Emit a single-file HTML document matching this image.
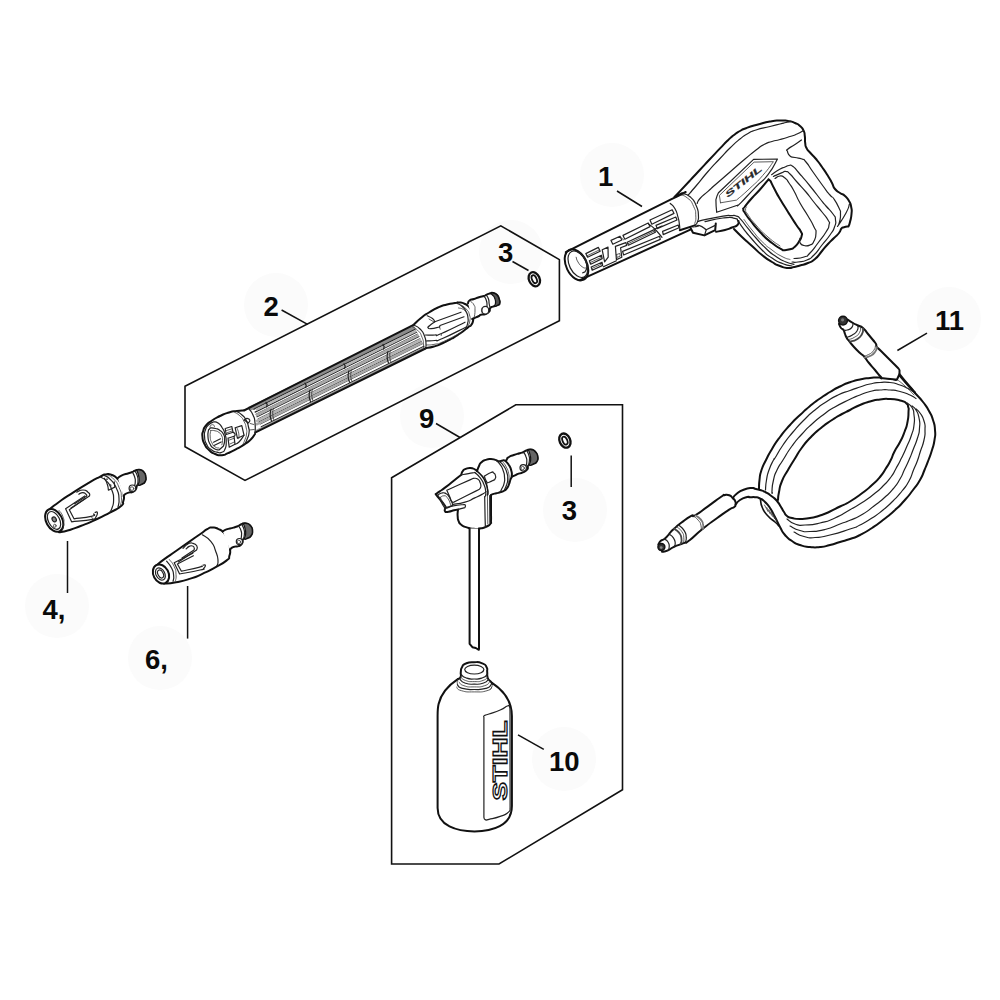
<!DOCTYPE html>
<html lang="en">
<head>
<meta charset="utf-8">
<title>Parts diagram</title>
<style>
html,body{margin:0;padding:0;background:#fff;}
body{width:1000px;height:1000px;overflow:hidden;position:relative;font-family:"Liberation Sans",sans-serif;}
svg{position:absolute;left:0;top:0;display:block;}
.lbl{font-family:"Liberation Sans",sans-serif;font-weight:bold;font-size:27.5px;fill:#0a0a0a;}
.bx{fill:none;stroke:#111;stroke-width:1.6;stroke-linejoin:miter;}
.ld{fill:none;stroke:#111;stroke-width:1.5;stroke-linecap:butt;}
.halo{fill:#fbfbfb;}
.o{fill:#fff;stroke:#111;stroke-width:2;stroke-linejoin:round;stroke-linecap:round;}
.m{fill:none;stroke:#222;stroke-width:1.2;stroke-linejoin:round;stroke-linecap:round;}
.t{fill:none;stroke:#333;stroke-width:0.8;stroke-linejoin:round;stroke-linecap:round;}
</style>
</head>
<body>
<svg width="1000" height="1000" viewBox="0 0 1000 1000">
<rect width="1000" height="1000" fill="#fff"/>
<!-- HALOS -->
<g class="halo">
<circle cx="612" cy="175" r="32"/>
<circle cx="276" cy="305" r="32"/>
<circle cx="511" cy="252" r="32"/>
<circle cx="575" cy="510" r="32"/>
<circle cx="57" cy="606" r="32"/>
<circle cx="160" cy="658" r="32"/>
<circle cx="432" cy="416" r="32"/>
<circle cx="564" cy="759" r="32"/>
<circle cx="949" cy="319" r="32"/>
</g>
<!-- BOXES -->
<polygon class="bx" points="185,386.2 500.8,225.8 559.4,259.6 559.4,320.8 245,480.4 185,446.8"/>
<polygon class="bx" points="391.6,477.7 515.8,404.8 622.5,404.8 622.5,789.7 499,864 391.6,864"/>
<!-- LEADERS -->
<g class="ld">
<path d="M617,191 L642,206.5"/>
<path d="M281.6,310 L307.6,324.4"/>
<path d="M512.5,261.5 L528.5,270.5"/>
<path d="M436,423.5 L460,437.5"/>
<path d="M571.2,455.5 V487"/>
<path d="M67.5,541 V593"/>
<path d="M187.6,586 V638.6"/>
<path d="M518,734.8 L543.8,749.4"/>
<path d="M897.4,350.5 L927,333.2"/>
</g>
<!-- PARTS -->
<g id="parts">
<g id="gun">
<ellipse class="o" cx="576.5" cy="264.8" rx="10.3" ry="16.6" transform="rotate(-26 576.5 264.8)"/>
<ellipse class="m" cx="577.8" cy="264.2" rx="8.4" ry="14.2" transform="rotate(-26 577.8 264.2)"/>
<path class="m" d="M578.0,252.4C580.0,254.0 581.1,253.2 584.0,257.2C586.9,261.2 586.0,260.0 586.6,264.4C587.2,268.8 587.1,267.6 585.8,270.4C584.5,273.2 583.8,272.0 582.8,272.8"/>
<path class="t" d="M576.2,257.2C576.8,258.8 576.0,258.8 578.0,262.0C580.0,265.2 579.6,264.8 582.2,266.8C584.8,268.8 584.6,267.6 585.8,268.0"/>
<path class="o" d="M565.8,252.2C599.8,235.0 631.5,219.0 668.0,200.8C704.5,182.6 672.8,198.6 675.2,197.4"/>
<path class="o" d="M579.8,280.2C613.2,265.0 643.6,251.1 680.0,234.4C716.4,217.7 686.0,231.6 689.0,230.2"/>
<path class="m" d="M585.8,253.6L598.4,247.4L600.2,251.2L587.6,257.2L585.8,253.6Z"/>
<path class="m" d="M589.4,260.8L601.4,255.2L602.2,258.6L590.7,264.2L589.4,260.8Z"/>
<path class="m" d="M591.2,267.0L602.0,262.2L602.7,265.4L592.2,270.2L591.2,267.0Z"/>
<path class="t" d="M587.0,255.8L599.6,249.8"/>
<path class="t" d="M590.0,262.6L601.8,257.2"/>
<path class="t" d="M591.7,268.6L602.2,263.8"/>
<path class="m" d="M602.2,249.8L608.0,247.1L608.2,257.2L604.6,261.8L602.2,249.8"/>
<path class="m" d="M603.4,266.8L616.4,260.8"/>
<path class="m" d="M611.0,240.4L620.0,236.2L621.8,240.0L612.8,244.2L611.0,240.4Z"/>
<path class="m" d="M623.0,235.4L648.2,223.0L650.0,226.6L624.8,239.2L623.0,235.4Z"/>
<path class="m" d="M627.2,242.3L654.2,229.6L655.4,232.2L628.4,245.2L627.2,242.3Z"/>
<path class="t" d="M627.8,243.8L654.8,230.9"/>
<path class="m" d="M622.6,251.4L659.6,236.2L660.3,239.4L623.6,255.0L622.6,251.4Z"/>
<path class="m" d="M615.4,246.4L625.8,242.6L626.7,245.4L620.6,247.8L621.8,257.2L616.4,259.6L615.4,246.4"/>
<path class="t" d="M616.6,254.6L619.8,253.4L620.2,256.2L617.1,257.4L616.6,254.6Z"/>
<path class="m" d="M650.0,220.0L672.2,209.8L674.0,213.4L651.8,224.2L650.0,220.0Z"/>
<path class="m" d="M656.0,225.4L675.8,217.0L677.0,220.0L657.2,228.6L656.0,225.4Z"/>
<path class="m" d="M662.6,231.4L678.2,225.0L679.0,227.8L663.2,234.6L662.6,231.4Z"/>
<path class="m" d="M648.8,224.2C650.8,225.8 650.4,224.6 654.8,229.0C659.2,233.4 659.6,234.6 662.0,237.4"/>
<path class="m" d="M654.8,229.0L662.0,226.0"/>
<path class="t" d="M620.0,236.8L623.6,239.8"/>
<path class="m" d="M670.2,203.4C671.8,205.2 672.4,204.2 675.0,208.8C677.6,213.4 676.5,212.0 678.0,217.2C679.5,222.4 678.8,220.2 679.4,224.4C680.0,228.6 679.7,228.0 679.8,229.8"/>
<path class="m" d="M682.2,193.4C684.8,194.6 685.4,192.9 690.0,196.8C694.6,200.7 693.2,199.2 696.0,205.2C698.8,211.2 697.9,209.2 698.4,214.8C698.9,220.4 698.6,218.5 697.4,222.0C696.2,225.5 695.7,224.2 694.8,225.4"/>
<path class="t" d="M679.2,194.6C681.9,195.8 682.6,194.1 687.4,198.0C692.2,201.9 690.8,200.4 693.6,206.4C696.4,212.4 695.4,210.3 695.8,216.0C696.2,221.7 695.1,221.0 694.8,223.4"/>
<path class="o" d="M674.4,196.8L682.2,193.2"/>
<path class="o" d="M679.8,230.2L694.8,225.4"/>
<path class="o" style="fill:none" d="M675.5,196.0C680.3,190.8 681.8,189.2 690.0,180.5C698.2,171.8 693.3,177.0 700.0,169.8C706.7,162.6 703.3,166.1 710.0,159.0C716.7,151.9 714.0,154.7 720.0,148.4C726.0,142.1 723.3,144.7 728.0,140.2C732.7,135.7 730.0,138.1 734.0,135.0C738.0,131.9 736.0,133.3 740.0,131.0C744.0,128.7 740.0,130.4 746.0,128.2C752.0,126.0 750.0,126.7 758.0,124.5C766.0,122.3 762.7,122.8 770.0,121.5C777.3,120.2 774.0,120.7 780.0,120.5C786.0,120.3 783.0,120.2 788.0,121.0C793.0,121.8 791.0,121.3 795.0,123.0C799.0,124.7 797.2,123.5 800.0,126.0C802.8,128.5 801.9,127.2 803.5,130.5C805.1,133.8 804.2,131.8 804.8,136.0C805.4,140.2 804.6,139.0 805.2,143.0C805.8,147.0 804.9,144.8 806.5,148.0C808.1,151.2 806.8,148.8 810.0,152.5C813.2,156.2 812.0,154.2 816.0,159.0C820.0,163.8 818.0,161.3 822.0,167.0C826.0,172.7 824.7,170.7 828.0,176.0C831.3,181.3 829.7,178.7 832.0,183.0C834.3,187.3 832.3,185.7 835.0,189.0C837.7,192.3 836.7,190.7 840.0,193.0C843.3,195.3 842.0,193.3 845.0,196.0C848.0,198.7 846.9,197.3 849.0,201.0C851.1,204.7 850.4,202.7 851.2,207.0C852.0,211.3 851.9,209.0 851.5,214.0C851.1,219.0 851.0,217.8 850.0,222.0C849.0,226.2 849.0,225.0 848.5,226.5C847.0,226.7 846.3,226.5 844.0,227.2C841.7,227.9 843.2,226.6 841.5,228.5C839.8,230.4 841.5,229.8 839.0,233.0C836.5,236.2 837.7,234.3 834.0,238.0C830.3,241.7 832.0,239.7 828.0,244.0C824.0,248.3 826.3,246.0 822.0,251.0C817.7,256.0 819.7,255.0 815.0,259.0C810.3,263.0 813.0,260.8 808.0,263.0C803.0,265.2 804.7,264.2 800.0,265.5C795.3,266.8 798.0,266.2 794.0,267.0C790.0,267.8 792.7,268.3 788.0,268.0C783.3,267.7 785.3,268.0 780.0,266.0C774.7,264.0 778.0,265.7 772.0,262.0C766.0,258.3 768.7,260.3 762.0,255.0C755.3,249.7 758.7,252.0 752.0,246.0C745.3,240.0 748.0,242.7 742.0,237.0C736.0,231.3 736.7,231.7 734.0,229.0"/>
<path class="o" style="fill:none" d="M738.5,221.0C738.2,222.3 739.7,222.8 737.5,225.0C735.3,227.2 736.2,225.8 732.0,227.5C727.8,229.2 730.3,228.6 725.0,230.0C719.7,231.4 719.0,231.2 716.0,231.8"/>
<path class="o" d="M690.6,228.0L693.0,232.8L704.4,235.4L715.2,230.2L715.8,223.4"/>
<path class="m" d="M696.0,226.8C697.2,226.4 696.2,224.6 699.6,225.6C703.0,226.6 704.0,228.4 706.2,229.8L715.2,225.4"/>
<path class="m" d="M706.2,229.8L704.6,235.2"/>
<path class="m" d="M688.2,195.0C690.8,192.0 689.4,193.8 696.0,186.0C702.6,178.2 700.0,180.7 708.0,171.5C716.0,162.3 712.7,166.3 720.0,158.5C727.3,150.7 723.3,154.5 730.0,148.0C736.7,141.5 734.0,143.8 740.0,139.0C746.0,134.2 742.7,136.5 748.0,133.5C753.3,130.5 748.7,132.3 756.0,130.0C763.3,127.7 762.0,128.5 770.0,126.5C778.0,124.5 774.7,125.3 780.0,124.0C785.3,122.7 782.3,123.4 786.0,122.5C789.7,121.6 789.3,121.7 791.0,121.3"/>
<path class="m" d="M697.2,203.4C698.1,201.8 696.4,202.5 700.0,198.5C703.6,194.5 703.0,195.9 708.0,191.4C713.0,186.9 707.7,191.5 715.0,185.0C722.3,178.5 720.0,180.7 730.0,172.0C740.0,163.3 736.3,166.3 745.0,159.0C753.7,151.7 749.7,154.8 756.0,150.0C762.3,145.2 758.7,147.3 764.0,144.5C769.3,141.7 766.7,143.2 772.0,141.5C777.3,139.8 774.0,141.2 780.0,139.5C786.0,137.8 784.3,138.3 790.0,136.5C795.7,134.7 792.5,136.0 797.0,134.0C801.5,132.0 801.3,131.7 803.5,130.5"/>
<path class="m" d="M716.7,212.3C716.5,209.1 716.0,207.5 716.0,202.6C715.9,197.7 715.7,201.0 716.5,197.7C717.4,194.4 717.8,194.4 718.5,192.7L753.6,159.4L777.5,159.0C774.3,164.2 775.4,165.3 768.0,174.7C760.7,184.2 764.4,178.0 755.4,187.3C746.4,196.6 747.0,196.6 741.0,202.6C735.0,208.6 738.6,204.4 737.4,205.3L716.7,212.3"/>
<path class="t" d="M720.5,202.8L719.4,195.4L754.1,162.1L773.4,161.7C769.8,166.3 770.4,166.8 762.6,175.6C754.8,184.5 758.7,180.0 750.0,188.2C741.3,196.4 741.0,196.1 736.5,200.1L720.5,202.8"/>
<text transform="translate(727.2,198.3) rotate(-38.6) skewX(-18) scale(1.85,1)" font-family="Liberation Sans, sans-serif" font-weight="bold" font-size="8.4" fill="#2a2a2a" stroke="#2a2a2a" stroke-width="0.2">STIHL</text>
<path class="o" d="M768.5,179.3C765.7,182.7 765.5,183.3 760.0,189.5C754.5,195.7 757.0,192.3 752.0,198.0C747.0,203.7 747.9,202.7 745.0,206.5C742.1,210.3 743.4,207.3 743.4,209.5C743.4,211.7 742.8,209.5 745.0,213.0C747.2,216.5 745.0,213.7 750.0,220.0C755.0,226.3 752.7,224.3 760.0,232.0C767.3,239.7 764.3,236.9 772.0,243.0C779.7,249.1 779.3,247.9 783.0,250.3C785.3,250.0 786.2,250.4 790.0,249.3C793.8,248.2 791.5,249.6 794.5,247.0C797.5,244.4 796.6,245.2 799.0,241.5C801.4,237.8 801.0,239.3 801.6,236.0C802.2,232.7 802.7,235.3 800.8,231.5C798.9,227.7 800.3,231.0 796.0,224.5C791.7,218.0 793.3,220.5 788.0,212.0C782.7,203.5 784.3,206.3 780.0,199.0C775.7,191.7 778.2,196.0 775.0,190.0C771.8,184.0 772.0,184.0 770.5,181.0L768.5,179.3"/>
<path class="t" d="M746.5,207.0C746.2,208.0 745.3,207.7 745.6,210.0C745.9,212.3 744.0,209.0 747.5,214.0C751.0,219.0 749.2,217.3 756.0,225.0C762.8,232.7 760.0,230.0 768.0,237.0C776.0,244.0 776.0,243.0 780.0,246.0"/>
<path class="m" d="M771.6,174.7C774.3,172.9 775.2,171.9 779.7,169.3C784.2,166.7 781.9,168.3 785.0,167.0C788.1,165.7 786.3,165.7 789.0,165.5C791.7,165.3 789.7,164.0 793.0,166.5C796.3,169.0 793.3,166.5 799.0,173.0C804.7,179.5 802.7,177.0 810.0,186.0C817.3,195.0 815.7,193.3 821.0,200.0C826.3,206.7 822.0,201.3 826.0,206.0C830.0,210.7 829.8,209.3 833.0,214.0C836.2,218.7 835.0,215.7 835.5,220.0C836.0,224.3 836.3,222.0 834.5,227.0C832.7,232.0 834.2,229.0 830.0,235.0C825.8,241.0 827.3,238.3 822.0,245.0C816.7,251.7 819.0,250.0 814.0,255.0C809.0,260.0 812.3,257.7 807.0,260.0C801.7,262.3 803.0,261.3 798.0,262.0C793.0,262.7 794.0,262.0 792.0,262.0"/>
<path class="m" d="M773.4,176.5C776.1,175.3 777.3,174.6 781.5,172.9C785.7,171.2 783.2,171.1 786.0,171.5C788.8,171.9 786.3,170.5 790.0,174.0C793.7,177.5 791.7,176.0 797.0,182.0C802.3,188.0 800.7,185.7 806.0,192.0C811.3,198.3 807.7,194.3 813.0,201.0C818.3,207.7 817.0,205.7 822.0,212.0C827.0,218.3 825.7,215.7 828.0,220.0C830.3,224.3 829.7,221.0 829.0,225.0C828.3,229.0 829.7,226.0 826.0,232.0C822.3,238.0 823.3,236.0 818.0,243.0C812.7,250.0 814.7,248.3 810.0,253.0C805.3,257.7 809.3,255.2 804.0,257.0C798.7,258.8 797.3,258.0 794.0,258.5"/>
<path class="m" d="M775.0,178.5C776.7,177.7 776.7,176.2 780.0,176.0C783.3,175.8 782.0,175.7 785.0,178.0C788.0,180.3 786.0,178.7 789.0,183.0C792.0,187.3 790.3,184.3 794.0,191.0C797.7,197.7 795.3,194.7 800.0,203.0C804.7,211.3 803.3,208.0 808.0,216.0C812.7,224.0 811.3,221.3 814.0,227.0C816.7,232.7 816.0,228.3 816.0,233.0C816.0,237.7 816.0,237.0 814.0,241.0C812.0,245.0 813.3,243.5 810.0,245.0C806.7,246.5 807.3,246.3 804.0,245.5C800.7,244.7 801.3,245.0 800.0,242.5C798.7,240.0 800.0,239.5 800.0,238.0"/>
<path class="m" d="M801.5,140.0C799.3,141.5 799.5,141.5 795.0,144.5C790.5,147.5 790.5,146.7 788.0,149.0C785.5,151.3 786.8,149.2 787.5,151.5C788.2,153.8 787.5,154.0 790.0,156.0C792.5,158.0 791.0,156.5 795.0,157.5C799.0,158.5 798.3,157.5 802.0,159.0C805.7,160.5 802.3,157.7 806.0,162.0C809.7,166.3 807.3,164.0 813.0,172.0C818.7,180.0 817.3,178.3 823.0,186.0C828.7,193.7 826.3,190.7 830.0,195.0C833.7,199.3 831.0,194.7 834.0,199.0C837.0,203.3 836.8,203.0 839.0,208.0C841.2,213.0 840.3,209.3 840.5,214.0C840.7,218.7 840.5,217.8 839.5,222.0C838.5,226.2 838.2,225.0 837.5,226.5C840.3,222.0 842.0,220.5 846.0,213.0C850.0,205.5 848.3,207.0 849.5,204.0"/>
<path class="m" d="M698.0,221.5C700.3,220.9 696.7,221.5 705.0,219.7C713.3,217.9 714.3,217.5 723.0,216.1C731.7,214.7 726.5,215.6 731.0,215.6C735.5,215.6 733.2,214.7 736.5,216.1C739.8,217.5 737.1,215.5 741.0,219.7C744.9,223.9 743.2,222.6 748.2,228.7C753.2,234.8 750.1,231.4 756.0,238.0C761.9,244.6 759.3,242.3 766.0,248.5C772.7,254.7 769.3,252.0 776.0,256.5C782.7,261.0 780.0,259.4 786.0,262.0C792.0,264.6 791.3,263.5 794.0,264.3"/>
<path class="m" d="M705.0,221.7C711.0,220.5 713.1,219.1 723.0,218.0C732.9,216.9 729.6,217.2 734.7,218.4C739.8,219.6 735.6,218.4 738.3,221.5C741.0,224.6 738.6,222.3 742.8,227.8C747.0,233.3 744.6,230.6 751.0,238.0C757.4,245.4 755.0,243.3 762.0,250.0C769.0,256.7 765.0,253.4 772.0,258.0C779.0,262.6 776.3,261.1 783.0,263.8C789.7,266.5 789.0,265.3 792.0,266.0"/>
<path class="t" d="M744.0,219.5C746.7,223.0 746.0,222.7 752.0,230.0C758.0,237.3 755.3,234.8 762.0,241.5C768.7,248.2 765.3,245.0 772.0,250.0C778.7,255.0 776.0,253.3 782.0,256.5C788.0,259.7 787.3,258.5 790.0,259.5"/>
</g>
<g id="lance">
<path d="M248.0,407.1 L416.0,323.9 L417.0,328.9 L250.0,411.1 Z" fill="#8c8c8c" stroke="none"/>
<path class="m" d="M253.9,409.3 L418.4,327.8"/>
<path class="m" d="M255.1,412.1 L420.0,330.5"/>
<path class="t" d="M255.9,414.1 L421.0,332.3"/>
<path class="m" d="M257.0,416.7 L422.5,334.8"/>
<path class="t" d="M257.9,418.9 L423.6,336.8"/>
<path class="m" d="M259.1,421.7 L425.2,339.5"/>
<path class="t" d="M260.2,424.2 L426.5,341.8"/>
<path class="m" d="M261.3,426.8 L428.0,344.3"/>
<path d="M256.0,409.9 L424.0,326.8" stroke="#b4b4b4" stroke-width="2.6" fill="none"/>
<path d="M256.0,415.5 L424.0,332.4" stroke="#a8a8a8" stroke-width="2.6" fill="none"/>
<path d="M256.0,421.4 L424.0,338.3" stroke="#b4b4b4" stroke-width="2.4" fill="none"/>
<path d="M256.0,424.7 L424.0,341.6" stroke="#a8a8a8" stroke-width="2.4" fill="none"/>
<path d="M256.0,430.7 L424.0,347.6" stroke="#999" stroke-width="1.8" fill="none"/>
<path class="m" d="M266.0,402.4 l1.2,2.2 l-0.6,2.4"/>
<path class="m" d="M271.0,409.4 c-1.2,3.5 -1,8 0.5,11.5"/>
<path class="t" d="M273.4,408.4 c-1.2,3.5 -1,8 0.5,11.5"/>
<path class="m" d="M305.0,383.1 l1.2,2.2 l-0.6,2.4"/>
<path class="m" d="M310.0,390.1 c-1.2,3.5 -1,8 0.5,11.5"/>
<path class="t" d="M312.4,389.1 c-1.2,3.5 -1,8 0.5,11.5"/>
<path class="m" d="M344.0,363.8 l1.2,2.2 l-0.6,2.4"/>
<path class="m" d="M349.0,370.8 c-1.2,3.5 -1,8 0.5,11.5"/>
<path class="t" d="M351.4,369.8 c-1.2,3.5 -1,8 0.5,11.5"/>
<path class="m" d="M383.0,344.5 l1.2,2.2 l-0.6,2.4"/>
<path class="m" d="M388.0,351.5 c-1.2,3.5 -1,8 0.5,11.5"/>
<path class="t" d="M390.4,350.5 c-1.2,3.5 -1,8 0.5,11.5"/>
<path class="o" style="fill:none" d="M244.0,410.5 L413.6,324.8"/>
<path class="o" style="fill:none" d="M255.0,432.7 L425.5,348.5"/>
<path class="o" style="fill:#fff" d="M244.0,410.5C241.7,410.7 242.0,410.3 237.0,411.0C232.0,411.7 234.7,410.8 229.0,412.5C223.3,414.2 225.7,413.3 220.0,416.0C214.3,418.7 216.7,417.3 212.0,420.5C207.3,423.7 208.9,422.0 206.0,425.5C203.1,429.0 204.4,427.2 203.2,431.0C202.0,434.8 202.1,432.7 202.5,437.0C202.9,441.3 202.3,439.7 204.5,444.0C206.7,448.3 205.5,446.7 209.0,450.0C212.5,453.3 210.7,452.3 215.0,454.0C219.3,455.7 217.7,455.5 222.0,455.2C226.3,454.9 223.0,455.4 228.0,453.2C233.0,451.0 231.3,451.8 237.0,448.7C242.7,445.6 240.3,447.2 245.0,444.0C249.7,440.8 247.7,442.5 251.0,439.2C254.3,435.9 253.7,435.7 255.0,434.0"/>
<path class="m" d="M214.0,421.8C212.3,422.7 211.9,421.8 209.0,424.5C206.1,427.2 206.9,425.8 205.4,430.0C203.9,434.2 204.2,432.3 204.6,437.0C205.0,441.7 204.4,439.8 206.5,444.0C208.6,448.2 207.5,446.8 211.0,449.5C214.5,452.2 213.4,451.3 217.0,452.2C220.6,453.1 219.1,453.3 221.8,452.2C224.5,451.1 223.5,452.4 225.0,449.0C226.5,445.6 226.2,447.0 226.2,442.0C226.2,437.0 226.4,438.8 225.0,434.0C223.6,429.2 224.3,431.2 222.0,427.5C219.7,423.8 220.7,424.9 218.0,423.0C215.3,421.1 215.3,422.2 214.0,421.8"/>
<path class="m" d="M208.5,430.0L210.5,427.8C212.2,428.0 212.5,427.7 215.5,428.5C218.5,429.3 216.8,428.3 219.5,430.2C222.2,432.1 221.8,430.9 223.5,434.2C225.2,437.5 224.6,436.1 224.6,440.0C224.6,443.9 223.9,444.0 223.5,446.0L219.0,450.0C217.3,449.5 217.0,450.5 214.0,448.5C211.0,446.5 212.0,447.8 210.0,444.0C208.0,440.2 208.5,441.7 208.0,437.0C207.5,432.3 208.3,432.3 208.5,430.0"/>
<path class="t" d="M210.8,430.5C212.2,430.6 212.3,430.1 215.0,430.8C217.7,431.5 216.7,430.8 219.0,432.5C221.3,434.2 220.6,433.3 221.8,436.0C223.0,438.7 222.5,437.6 222.5,440.5C222.5,443.4 222.0,443.4 221.8,444.8"/>
<path class="t" d="M210.8,430.5C210.6,432.7 209.8,432.8 210.2,437.0C210.6,441.2 210.4,439.7 212.0,443.0C213.6,446.3 212.7,445.1 215.0,446.8C217.3,448.5 217.7,447.6 219.0,448.0"/>
<path class="m" d="M213.5,442.2L220.5,438.8"/>
<path class="m" d="M214.0,445.5L221.2,442.0"/>
<path class="t" d="M210.0,427.2C210.3,426.5 209.8,425.9 211.0,425.2C212.2,424.5 212.3,424.5 213.5,425.0C214.7,425.5 214.2,426.2 214.5,426.8"/>
<path class="m" d="M237.0,411.4C238.7,412.6 239.0,412.1 242.0,415.0C245.0,417.9 243.8,416.0 246.0,420.0C248.2,424.0 247.5,422.7 248.5,427.0C249.5,431.3 249.4,429.0 249.0,433.0C248.6,437.0 248.5,435.4 247.2,439.0C245.9,442.6 245.7,442.1 245.0,443.7"/>
<path class="t" d="M234.5,412.2C236.3,413.4 236.7,412.9 239.8,415.8C242.9,418.7 241.7,416.9 243.8,421.0C245.9,425.1 245.3,423.7 246.2,428.0C247.1,432.3 246.9,430.2 246.5,434.0C246.1,437.8 246.2,435.9 245.0,439.5C243.8,443.1 243.5,443.0 242.8,444.8"/>
<path class="m" d="M235.2,427.8L241.8,425.6L244.0,435.2L237.4,438.2L235.2,427.8"/>
<path class="t" d="M237.4,438.2C237.9,437.8 239.0,440.0 239.0,437.0C239.0,434.0 238.8,432.3 237.5,429.2C236.2,426.1 236.0,428.3 235.2,427.8"/>
<path class="m" d="M225.2,428.5L231.8,426.5L233.0,432.2L226.2,434.5L225.2,428.5"/>
<path class="t" d="M226.5,430.5L232.2,428.8"/>
<path class="t" d="M227.0,432.8L232.6,430.8"/>
<path class="m" d="M228.0,438.2L234.0,436.2L235.0,444.2L229.2,447.2L228.0,438.2"/>
<path class="m" d="M233.0,432.2C233.7,432.8 234.5,432.7 235.0,434.0C235.5,435.3 234.7,435.5 234.5,436.2"/>
<path class="t" d="M229.5,440.0L234.2,438.2"/>
<path class="t" d="M230.0,444.0L234.6,441.8"/>
<path class="m" d="M235.0,444.2C236.3,443.5 236.0,445.0 239.0,442.0C242.0,439.0 242.3,437.5 244.0,435.2"/>
<path class="m" d="M244.2,420.0C245.2,419.5 245.3,418.3 247.2,418.4C249.1,418.5 249.4,418.7 249.8,420.2C250.2,421.7 248.9,422.1 248.5,423.0L244.2,420.0"/>
<path class="m" d="M249.0,409.0C250.3,411.0 251.0,410.3 253.0,415.0C255.0,419.7 254.3,416.7 255.0,423.0C255.7,429.3 255.0,430.3 255.0,434.0"/>
<path class="t" d="M250.2,423.5L253.8,424.5"/>
<path class="t" d="M249.5,430.0L254.2,429.5"/>
<path class="o" style="fill:#fff" d="M413.5,325.0C416.0,322.7 415.8,322.2 421.0,318.0C426.2,313.8 423.3,316.0 429.0,312.5C434.7,309.0 432.0,310.2 438.0,307.5C444.0,304.8 441.3,306.0 447.0,304.5C452.7,303.0 451.0,303.7 455.0,303.0C459.0,302.3 455.7,302.2 459.0,302.5C462.3,302.8 461.3,302.2 465.0,304.0C468.7,305.8 467.3,304.7 470.0,308.0C472.7,311.3 471.9,310.0 473.0,314.0C474.1,318.0 473.8,316.3 473.2,320.0C472.6,323.7 472.6,322.8 471.2,325.0C469.8,327.2 470.7,325.2 469.0,326.5C467.3,327.8 469.0,326.7 466.0,329.0C463.0,331.3 464.7,330.3 460.0,333.5C455.3,336.7 457.7,335.3 452.0,338.5C446.3,341.7 449.0,340.3 443.0,343.0C437.0,345.7 439.8,344.8 434.0,346.5C428.2,348.2 428.3,347.6 425.5,348.2"/>
<path class="m" d="M413.5,325.0C415.7,326.3 416.3,325.3 420.0,329.0C423.7,332.7 422.5,331.0 424.5,336.0C426.5,341.0 425.7,339.9 426.0,344.0C426.3,348.1 425.7,346.8 425.5,348.2"/>
<path class="t" d="M411.0,326.2C413.2,327.5 413.8,326.5 417.5,330.2C421.2,333.9 420.0,332.3 422.0,337.2C424.0,342.1 423.2,340.9 423.6,345.0C424.0,349.1 423.3,348.0 423.2,349.5"/>
<path class="m" d="M427.2,315.8C429.0,316.7 430.0,316.5 432.5,318.5C435.0,320.5 434.0,320.7 434.8,321.8C433.0,323.1 431.7,323.8 429.5,325.8C427.3,327.8 427.6,326.9 428.2,327.8C428.8,328.7 427.4,328.9 431.2,328.6C435.0,328.3 436.7,327.5 439.5,327.0"/>
<path class="m" d="M434.8,321.8L461.0,312.2"/>
<path class="m" d="M439.5,327.0L440.0,325.5L464.0,316.8"/>
<path class="t" d="M439.5,327.0L440.2,329.2"/>
<path class="m" d="M425.5,335.0C428.7,335.0 429.7,335.5 435.0,335.0C440.3,334.5 431.5,337.8 441.5,333.5C451.5,329.2 457.2,326.0 465.0,322.2"/>
<path class="t" d="M441.5,333.5L441.2,335.6"/>
<path class="m" d="M426.2,341.0C429.1,340.8 429.6,341.3 435.0,340.5C440.4,339.7 432.1,343.0 442.5,338.5C452.9,334.0 458.3,330.8 466.2,327.0"/>
<path class="t" d="M426.5,345.0C429.3,344.7 429.3,345.4 435.0,344.2C440.7,343.0 434.8,345.4 443.5,341.5C452.2,337.6 455.2,335.5 461.0,332.5"/>
<path class="t" d="M429.0,319.0L434.0,322.0"/>
<path class="m" d="M457.0,303.2C458.8,304.4 459.4,303.9 462.5,306.8C465.6,309.7 464.4,308.3 466.2,312.0C468.0,315.7 467.5,314.2 468.0,318.0C468.5,321.8 468.3,320.0 467.6,323.5C466.9,327.0 466.4,326.8 465.8,328.5"/>
<path class="t" d="M461.0,305.0C462.7,306.3 463.4,305.7 466.2,309.0C469.0,312.3 468.3,311.0 469.5,315.0C470.7,319.0 470.2,317.5 469.8,321.0C469.4,324.5 468.7,324.0 468.2,325.5"/>
<path class="t" d="M458.5,308.0C460.2,308.5 460.7,307.8 463.5,309.5C466.3,311.2 465.8,311.8 467.0,313.0"/>
<path class="o" style="fill:#fff" d="M468.0,303.2C468.5,302.3 467.5,301.9 469.5,300.5C471.5,299.1 470.8,300.1 474.0,299.0C477.2,297.9 475.7,298.2 479.0,297.2C482.3,296.2 481.6,296.8 484.0,296.0C486.4,295.2 484.2,295.7 486.2,294.8C488.2,293.9 487.7,294.0 490.0,293.4C492.3,292.8 490.9,292.5 493.2,293.0C495.5,293.5 495.1,293.0 497.0,295.0C498.9,297.0 498.1,296.3 499.0,299.0C499.9,301.7 500.1,301.1 499.6,303.2C499.1,305.3 499.7,304.1 497.5,305.2C495.3,306.3 495.4,305.6 493.0,306.6C490.6,307.6 491.5,306.5 490.2,308.2C488.9,309.9 490.9,309.6 489.2,311.6C487.5,313.6 487.7,313.2 485.0,314.2C482.3,315.2 483.0,314.1 481.0,314.7C479.0,315.3 481.3,314.8 479.0,316.0C476.7,317.2 476.3,317.2 474.0,318.2C471.7,319.2 472.8,318.7 472.2,319.0"/>
<path d="M490.2,293.6C491.2,293.4 490.9,292.6 493.2,293.1C495.5,293.6 495.1,293.0 497.0,295.0C498.9,297.0 498.1,296.3 499.0,299.0C499.9,301.7 500.1,301.1 499.6,303.2C499.1,305.3 499.2,304.2 497.5,305.2C495.8,306.2 495.2,306.9 494.5,306.2C493.8,305.5 495.4,305.6 495.5,303.0C495.6,300.4 495.8,301.2 494.8,298.5C493.8,295.8 494.0,296.6 492.5,295.0C491.0,293.4 491.0,294.1 490.2,293.6C489.4,293.1 489.2,293.8 490.2,293.6Z" fill="#555" stroke="#111" stroke-width="1.2"/>
<path class="m" d="M486.2,295.0C487.0,296.3 487.5,296.0 488.5,299.0C489.5,302.0 488.6,301.0 489.2,304.0C489.8,307.0 489.9,306.7 490.2,308.0"/>
<path class="m" d="M484.0,296.2C484.7,297.5 485.2,297.1 486.2,300.0C487.2,302.9 486.9,302.2 487.0,305.0C487.1,307.8 486.7,307.3 486.5,308.5"/>
<ellipse class="m" cx="485.3" cy="310.2" rx="3.4" ry="3.8" style="fill:#fff"/>
<path class="t" d="M482.0,308.0C481.8,309.0 481.2,309.2 481.5,311.0C481.8,312.8 482.4,312.7 482.8,313.5"/>
<path class="t" d="M470.5,301.2C471.7,302.5 472.5,302.1 474.0,305.0C475.5,307.9 474.9,305.8 475.0,310.0C475.1,314.2 474.5,315.0 474.2,317.5"/>
</g>
<g id="nozzles">
<path class="o" style="fill:#fff" d="M48.2,510.4C51.8,507.6 50.6,508.0 59.0,502.0C67.4,496.0 63.8,498.6 73.4,492.4C83.0,486.2 79.0,488.6 87.8,483.4C96.6,478.2 93.8,479.8 99.8,476.8C105.8,473.8 101.8,475.0 105.8,474.4C109.8,473.8 107.8,473.4 111.8,475.0C115.8,476.6 114.4,475.4 117.8,479.2C121.2,483.0 120.0,481.2 122.0,486.4C124.0,491.6 123.4,489.8 123.8,494.8C124.2,499.8 124.2,497.6 123.2,501.4C122.2,505.2 125.4,502.4 120.8,506.2C116.2,510.0 118.0,508.2 109.4,512.8C100.8,517.4 104.6,515.6 95.0,520.0C85.4,524.4 89.4,522.6 80.6,526.0C71.8,529.4 75.8,528.1 68.6,530.2C61.4,532.3 62.2,531.6 59.0,532.2"/>
<path class="o" style="fill:#fff" d="M117.8,478.2C119.0,477.4 117.8,477.3 121.4,475.6C125.0,473.9 124.9,474.4 128.6,473.2C132.3,472.0 130.4,472.8 132.4,472.0C134.5,471.2 132.5,471.5 134.8,470.8C137.2,470.1 136.5,469.4 139.4,469.8C142.3,470.2 141.5,469.7 143.6,472.0C145.7,474.3 145.2,473.6 145.6,476.8C146.1,480.0 146.2,479.2 144.9,481.6C143.6,484.0 144.4,482.7 141.8,484.0C139.2,485.3 139.2,483.8 137.2,485.4C135.3,487.1 137.5,486.9 136.0,489.0C134.6,491.2 135.3,490.7 132.8,491.9C130.3,493.1 131.2,491.8 128.6,492.6C126.0,493.4 126.7,493.2 125.0,494.3C123.3,495.4 124.0,495.4 123.6,496.0"/>
<path d="M136.8,470.3C137.7,470.2 137.4,469.3 139.6,469.8C141.9,470.4 141.6,469.7 143.6,472.0C145.6,474.3 145.2,473.6 145.6,476.8C146.1,480.0 146.2,479.2 144.9,481.6C143.6,484.0 144.0,482.9 141.8,484.0C139.6,485.1 139.3,486.2 138.4,485.0C137.6,483.8 139.2,483.7 139.2,480.4C139.2,477.1 139.2,478.4 138.4,475.0C137.6,471.6 137.3,471.9 136.8,470.3C136.2,468.8 135.8,470.5 136.8,470.3Z" fill="#666" stroke="#111" stroke-width="1.2"/>
<path class="m" d="M132.4,472.2C133.2,473.8 133.6,473.7 134.6,476.8C135.6,479.9 135.3,478.6 135.3,481.6C135.3,484.6 134.8,484.4 134.6,485.8"/>
<path class="m" d="M134.8,471.0C135.6,472.6 136.2,472.3 137.2,475.6C138.3,478.9 138.0,477.7 138.0,481.0C138.0,484.3 137.5,484.0 137.2,485.4"/>
<circle class="m" cx="132.4" cy="488.3" r="3.3" style="fill:#fff"/>
<circle class="t" cx="132.0" cy="488.6" r="1.8"/>
<ellipse class="o" cx="54.2" cy="520.4" rx="8" ry="12.2" transform="rotate(-28 54.2 520.4)" style="fill:#fff"/>
<ellipse class="m" cx="54.0" cy="520.4" rx="5.6" ry="9.6" transform="rotate(-28 54.0 520.4)"/>
<ellipse class="m" cx="54.2" cy="519.4" rx="2" ry="2.6" transform="rotate(-28 54.2 519.4)" style="fill:#888"/>
<ellipse class="t" cx="54.8" cy="525.8" rx="1.3" ry="1.6"/>
<path class="t" d="M59.0,510.4C60.3,512.4 61.2,512.0 62.8,516.4C64.4,520.8 64.0,519.0 63.8,523.6C63.6,528.2 62.8,528.0 62.4,530.2"/>
<path class="m" d="M99.8,476.8C102.2,478.4 103.0,477.2 107.0,481.6C111.0,486.0 109.6,484.0 111.8,490.0C114.0,496.0 113.5,493.6 113.6,499.6C113.7,505.6 113.4,503.6 112.0,508.0C110.6,512.4 110.3,511.2 109.4,512.8"/>
<path class="m" d="M104.0,475.2C106.3,476.8 106.6,475.3 110.8,479.8C115.0,484.3 113.9,482.6 116.6,488.8C119.3,495.0 118.5,492.3 119.0,498.4C119.5,504.5 118.4,504.2 118.0,507.0"/>
<path class="t" d="M107.0,474.6C109.2,476.1 109.5,474.6 113.6,479.0C117.7,483.4 116.6,481.8 119.2,487.8C121.8,493.9 121.0,491.4 121.4,497.2C121.8,503.0 120.8,502.6 120.4,505.4"/>
<path class="m" d="M104.4,478.2C105.3,480.2 105.9,480.0 107.2,484.0C108.6,488.0 108.0,488.2 108.4,490.2L114.8,487.1L114.2,481.8"/>
<circle cx="110.4" cy="485.4" r="1.1" fill="#444"/>
<circle cx="107.0" cy="479.2" r="0.9" fill="#444"/>
<path class="m" d="M76.8,492.2C78.8,491.4 79.2,490.0 83.0,490.0C86.8,490.0 85.8,490.5 88.0,492.2C90.3,493.8 89.6,493.5 89.7,495.0C89.8,496.6 88.8,496.2 88.3,496.7L71.0,508.0"/>
<path class="m" d="M78.8,494.2C80.1,493.7 80.4,492.6 82.8,492.6C85.2,492.6 84.6,493.1 86.0,494.2C87.4,495.3 86.6,495.4 86.8,496.0L74.6,503.8"/>
<path class="m" d="M84.8,496.0L65.6,508.7L71.6,521.8C78.6,521.0 84.6,520.8 92.6,519.3C100.6,517.8 94.1,519.5 95.7,517.4C97.3,515.2 97.6,514.5 97.4,512.8C97.2,511.1 95.8,512.5 95.0,512.3"/>
<path class="m" d="M85.4,498.6L69.3,509.7L74.0,518.8C79.7,518.0 84.6,518.0 91.2,516.4C97.8,514.8 92.9,514.8 93.8,514.0"/>
<path class="t" d="M91.4,516.6L92.8,519.3"/>
<path class="o" style="fill:#fff" d="M155.6,566.0C158.4,563.8 157.2,564.4 164.0,559.4C170.8,554.4 168.0,556.6 176.0,551.0C184.0,545.4 180.0,548.2 188.0,542.6C196.0,537.0 193.6,538.7 200.0,534.2C206.4,529.7 203.2,531.4 207.2,529.2C211.2,527.0 208.4,527.7 212.0,527.6C215.6,527.5 214.0,527.0 218.0,528.8C222.0,530.6 220.6,529.2 224.0,533.0C227.4,536.8 226.2,535.0 228.2,540.2C230.2,545.4 229.6,543.4 230.0,548.6C230.4,553.8 230.6,551.8 229.4,555.8C228.2,559.8 231.4,556.6 226.4,560.6C221.4,564.6 222.4,563.4 214.4,567.8C206.4,572.2 210.4,570.2 202.4,573.8C194.4,577.4 199.2,575.8 190.4,578.6C181.6,581.4 184.8,580.5 176.0,582.2C167.2,583.9 168.0,583.2 164.0,583.6"/>
<path class="o" style="fill:#fff" d="M222.8,531.4C224.0,530.8 222.8,530.7 226.4,529.4C230.0,528.1 229.5,528.8 233.6,527.6C237.7,526.4 235.8,527.0 238.6,525.8C241.4,524.6 239.5,524.8 242.0,524.0C244.5,523.2 243.4,522.8 246.2,523.4C249.0,524.0 248.4,523.4 250.4,525.8C252.4,528.2 252.1,527.4 252.3,530.6C252.6,533.8 252.6,533.0 251.1,535.4C249.7,537.8 250.6,536.6 248.0,537.8C245.4,539.0 245.4,537.2 243.4,539.0C241.5,540.8 243.8,540.9 242.2,543.3C240.6,545.7 241.1,545.1 238.6,546.2C236.2,547.3 237.2,545.9 234.8,546.6C232.4,547.2 233.0,547.0 231.4,548.1C229.8,549.2 230.5,549.2 230.0,549.8"/>
<path d="M243.4,523.8C244.4,523.6 243.9,522.7 246.2,523.4C248.5,524.1 248.4,523.4 250.4,525.8C252.4,528.2 252.1,527.4 252.3,530.6C252.6,533.8 252.6,533.0 251.1,535.4C249.7,537.8 250.2,536.7 248.0,537.8C245.8,538.9 245.4,540.0 244.6,538.8C243.8,537.6 245.4,537.5 245.6,534.2C245.8,530.9 245.8,532.3 245.1,528.8C244.4,525.3 244.0,525.4 243.4,523.8C242.9,522.1 242.5,523.9 243.4,523.8Z" fill="#666" stroke="#111" stroke-width="1.2"/>
<path class="m" d="M238.6,526.0C239.4,527.6 240.1,527.5 241.0,530.6C242.0,533.7 241.6,532.4 241.5,535.4C241.4,538.4 241.0,538.2 240.8,539.6"/>
<path class="m" d="M241.8,524.4C242.5,526.0 243.0,525.9 243.9,529.2C244.8,532.4 244.6,530.9 244.4,534.2C244.2,537.5 243.8,537.4 243.4,539.0"/>
<circle class="m" cx="239.4" cy="541.6" r="3.1" style="fill:#fff"/>
<circle class="t" cx="238.9" cy="541.9" r="1.7"/>
<ellipse class="o" cx="161.0" cy="574.0" rx="7.6" ry="10" transform="rotate(-28 161.0 574.0)" style="fill:#fff"/>
<ellipse class="m" cx="160.4" cy="574.0" rx="4.4" ry="6.6" transform="rotate(-28 160.4 574.0)"/>
<ellipse class="m" cx="160.6" cy="574.0" rx="2.6" ry="4.2" transform="rotate(-28 160.6 574.0)"/>
<path class="m" d="M166.6,561.2C168.2,563.4 169.1,563.2 171.4,567.8C173.8,572.4 173.0,570.5 173.6,575.0C174.2,579.5 173.3,579.2 173.1,581.2"/>
<path class="t" d="M169.4,559.6C171.0,562.0 172.0,561.7 174.2,566.6C176.4,571.5 175.6,569.7 176.0,574.4C176.4,579.1 175.7,578.6 175.5,580.8"/>
<path class="m" d="M202.4,534.8C205.2,537.0 206.4,536.0 210.8,541.4C215.2,546.8 213.2,544.6 215.6,551.0C218.0,557.4 217.6,555.6 218.0,560.6C218.4,565.6 217.2,564.2 216.8,566.0"/>
<path class="m" d="M183.0,548.4C184.6,546.9 184.6,545.7 188.0,544.0C191.4,542.4 190.1,542.6 193.0,543.3C196.0,544.0 195.7,544.0 196.9,546.2C198.1,548.4 196.7,548.8 196.6,550.0L178.4,562.0"/>
<path class="m" d="M186.2,548.8C187.2,548.0 187.1,547.4 189.2,546.4C191.3,545.5 190.9,545.4 192.6,546.0C194.2,546.5 193.8,546.6 194.2,548.0C194.7,549.4 194.1,549.4 194.0,550.0L182.0,558.0"/>
<path class="m" d="M192.8,553.2L174.2,562.8L179.6,574.0C186.4,572.7 192.0,571.8 200.0,570.0C208.0,568.1 201.8,569.9 203.6,568.4C205.4,566.9 205.6,566.5 205.4,565.4C205.2,564.3 203.8,565.2 203.0,565.2"/>
<path class="m" d="M193.4,555.8L177.4,564.0L181.4,571.2C187.2,569.9 192.2,568.9 198.8,567.3C205.4,565.7 200.4,566.7 201.2,566.4"/>
</g>
<g id="foam">
<path class="o" style="fill:#fff" d="M504.2,465.8C505.0,463.8 505.0,462.7 506.6,459.8C508.2,456.9 506.6,458.6 509.0,457.0C511.4,455.4 510.2,456.3 513.8,455.0C517.4,453.7 516.5,454.2 519.8,453.2C523.1,452.2 521.2,453.0 523.6,452.0C526.0,451.0 524.5,451.0 527.0,450.2C529.5,449.4 528.4,449.0 531.2,449.6C534.0,450.2 533.3,449.6 535.4,452.0C537.5,454.4 537.2,453.6 537.6,456.8C538.0,460.0 538.1,459.2 536.6,461.6C535.1,464.0 535.7,462.7 533.0,464.0C530.3,465.3 530.4,463.6 528.4,465.4C526.5,467.3 529.1,467.2 527.2,469.5C525.4,471.8 525.7,471.0 522.8,472.4C519.9,473.8 521.2,472.6 518.6,473.6C516.0,474.6 517.7,474.1 515.0,475.4C512.3,476.7 512.0,476.8 510.4,477.4"/>
<path d="M528.4,450.1C529.4,449.9 528.9,449.0 531.2,449.6C533.5,450.2 533.3,449.6 535.4,452.0C537.5,454.4 537.2,453.6 537.6,456.8C538.0,460.0 538.1,459.2 536.6,461.6C535.1,464.0 535.3,462.9 533.0,464.0C530.7,465.1 530.4,466.2 529.6,465.0C528.8,463.8 530.4,463.7 530.6,460.4C530.8,457.1 530.8,458.4 530.1,455.0C529.4,451.6 529.0,451.7 528.4,450.1C527.9,448.4 527.5,450.2 528.4,450.1Z" fill="#666" stroke="#111" stroke-width="1.2"/>
<path class="m" d="M523.6,452.2C524.4,453.8 525.0,453.7 526.0,456.8C527.1,459.9 526.8,458.5 526.8,461.6C526.8,464.7 526.3,464.6 526.0,466.2"/>
<path class="m" d="M526.8,450.6C527.5,452.2 528.0,452.1 528.9,455.4C529.8,458.6 529.6,457.0 529.4,460.4C529.2,463.8 528.8,463.8 528.4,465.4"/>
<circle class="m" cx="523.2" cy="467.8" r="3.2" style="fill:#fff"/>
<circle class="t" cx="522.7" cy="468.1" r="1.7"/>
<path class="o" style="fill:#fff" d="M435.7,494.1C437.0,493.2 436.3,493.8 439.7,491.4C443.2,489.0 440.9,490.8 446.0,486.9C451.1,483.0 449.9,483.8 455.0,479.7C460.1,475.7 459.2,476.4 461.3,474.8C461.8,473.6 461.2,473.1 462.7,471.2C464.2,469.2 463.3,470.0 465.8,468.9C468.4,467.9 467.3,467.9 470.3,468.0C473.3,468.2 472.6,468.3 474.8,469.4C477.1,470.4 476.3,470.6 477.1,471.2C477.7,469.5 477.5,469.1 478.9,466.2C480.2,463.4 478.9,464.7 481.1,462.6C483.4,460.5 482.3,461.1 485.6,459.9C488.9,458.7 487.7,459.0 491.0,459.0C494.3,459.0 492.8,459.2 495.5,459.9C498.2,460.7 496.7,461.1 499.1,461.3C501.5,461.4 500.6,460.5 502.7,460.4C504.8,460.4 503.3,459.4 505.4,461.0C507.5,462.6 507.1,462.1 509.0,465.3C511.0,468.5 510.4,467.1 511.3,470.7C512.2,474.3 512.0,473.1 511.7,476.1C511.4,479.1 511.3,477.0 510.4,479.7C509.5,482.4 510.1,481.5 509.0,484.2C508.0,486.9 508.7,485.7 507.2,487.8C505.7,489.9 506.9,489.0 504.5,490.5C502.1,492.0 502.7,491.4 500.0,492.3C497.3,493.2 498.8,492.6 496.4,493.2C494.0,493.8 494.6,493.5 492.8,494.1C491.0,494.7 491.6,494.7 491.0,495.0C491.0,498.0 491.0,498.0 491.0,504.0C491.0,510.0 491.0,507.5 491.0,513.0C491.0,518.6 491.2,517.1 491.0,520.7C490.8,524.3 491.8,521.9 490.3,523.8C488.8,525.8 489.6,525.0 486.5,526.5C483.4,528.0 485.3,527.6 481.1,528.3C476.9,529.1 478.7,529.1 473.9,528.8C469.1,528.5 470.9,528.8 466.7,527.4C462.5,526.1 464.0,526.8 461.3,524.7C458.6,522.6 459.8,523.8 458.6,521.1C457.4,518.4 458.0,519.6 457.7,516.6C457.4,513.6 457.6,514.5 457.7,512.1C457.9,509.7 458.0,510.3 458.2,509.4C456.8,509.7 457.3,509.6 454.1,510.3C451.0,511.1 451.6,511.1 448.7,511.7C445.9,512.3 446.6,512.0 445.6,512.1C445.3,511.4 444.5,511.4 444.7,509.9C444.8,508.4 445.6,508.4 446.0,507.6C445.3,506.4 445.9,506.9 443.8,504.0C441.7,501.2 442.0,501.8 439.7,499.1C437.5,496.4 438.4,497.6 437.0,495.9C435.7,494.3 436.1,494.7 435.7,494.1"/>
<path class="m" d="M446.0,507.6C448.4,507.0 447.2,506.9 453.2,505.8C459.2,504.8 460.4,504.9 464.0,504.5C464.5,504.8 465.1,504.3 465.4,505.4C465.7,506.4 465.1,506.9 464.9,507.6L458.2,509.4"/>
<path class="m" d="M437.7,495.1C439.1,494.4 439.1,493.5 441.9,493.0C444.7,492.5 443.8,492.5 446.1,493.7C448.4,494.9 447.3,494.2 448.9,496.5C450.5,498.8 449.8,498.1 451.0,500.7C452.2,503.3 452.4,502.3 452.4,504.2C452.4,506.1 452.9,505.0 451.0,506.3C449.1,507.6 448.2,507.5 446.8,508.1"/>
<path class="t" d="M440.5,497.3C441.7,496.8 441.8,495.7 444.0,495.8C446.2,495.9 445.2,495.2 447.2,497.6C449.1,499.9 448.9,500.1 450.0,502.8C451.0,505.5 450.2,504.8 450.3,505.7"/>
<path class="m" d="M437.7,495.1C438.4,496.3 438.5,496.0 439.8,498.6C441.1,501.2 439.8,499.5 441.6,502.8C443.3,506.1 443.9,506.5 445.1,508.4"/>
<path class="t" d="M440.5,497.3C441.1,498.7 440.5,498.2 442.3,501.4C444.0,504.6 444.6,505.1 445.8,507.0"/>
<path class="m" d="M446.8,490.3C451.2,488.3 451.2,488.3 460.1,484.3C469.0,480.3 469.0,480.3 473.4,478.3C474.8,478.5 475.4,477.6 477.6,479.0C479.8,480.4 479.0,479.9 480.1,482.5C481.1,485.1 481.1,484.4 480.8,486.7C480.4,489.0 479.6,488.6 479.0,489.5C474.8,491.6 474.8,491.6 466.4,495.8C458.0,500.0 458.0,500.0 453.8,502.1C453.1,501.9 453.1,503.3 451.7,501.4C450.3,499.5 451.2,500.2 449.6,496.5C448.0,492.8 447.7,492.4 446.8,490.3"/>
<path class="m" d="M453.1,504.3C457.1,503.6 457.8,504.2 465.0,502.1C472.2,500.0 468.7,500.7 474.8,497.9C480.9,495.1 479.5,495.8 483.2,493.7C486.9,491.6 485.1,492.3 486.0,491.6"/>
<path class="o" style="fill:none;stroke-width:1.6" d="M477.1,471.2C478.7,472.8 479.2,472.4 482.0,476.1C484.9,479.9 483.8,478.2 485.6,482.4C487.4,486.6 486.7,485.1 487.4,488.7C488.2,492.3 487.9,491.1 487.9,493.2C487.9,495.3 487.6,494.4 487.4,495.0"/>
<path class="m" d="M474.8,472.5C476.6,474.3 477.2,474.0 480.2,477.9C483.2,481.8 482.0,480.0 483.8,484.2C485.6,488.4 485.0,486.9 485.6,490.5C486.2,494.1 485.9,492.9 485.6,495.0C485.3,497.1 485.0,496.2 484.7,496.8"/>
<path class="m" d="M461.3,474.8C463.7,474.4 464.0,474.3 468.5,473.6C473.0,472.8 472.7,472.9 474.8,472.5"/>
<path class="m" d="M484.3,476.1C486.5,474.9 487.9,473.6 491.0,472.5C494.2,471.5 492.2,471.9 493.7,473.0C495.2,474.0 495.1,473.7 495.5,475.7C496.0,477.6 496.0,477.2 495.1,478.8C494.2,480.5 495.4,479.3 492.8,480.6C490.3,482.0 489.2,482.1 487.4,482.9C486.8,481.8 486.7,482.0 485.6,479.7C484.6,477.5 484.7,477.3 484.3,476.1"/>
<path class="m" d="M495.5,459.9C497.0,461.4 497.5,460.8 500.0,464.4C502.6,468.0 501.7,466.5 503.2,470.7C504.7,474.9 504.2,472.8 504.5,477.0C504.8,481.2 505.0,479.4 504.1,483.3C503.2,487.2 503.2,485.7 501.8,488.7C500.5,491.7 500.6,491.1 500.0,492.3"/>
<path class="m" d="M499.1,461.3C500.6,462.8 501.1,462.0 503.6,465.8C506.2,469.5 505.4,468.2 506.8,472.5C508.1,476.9 507.7,474.9 507.7,478.8C507.7,482.7 507.8,480.6 506.8,484.2C505.7,487.8 505.3,487.8 504.5,489.6"/>
<path class="t" d="M502.7,461.7C503.9,463.5 504.4,463.2 506.3,467.1C508.3,471.0 507.7,469.5 508.6,473.4C509.5,477.3 509.2,475.7 509.0,478.8C508.9,482.0 508.4,481.5 508.1,482.9"/>
<path class="m" d="M484.7,496.8C484.9,505.2 484.9,512.2 485.2,522.0C485.5,531.8 485.5,524.9 485.6,526.3"/>
<path class="t" d="M487.4,495.0L487.8,524.0"/>
<path class="m" d="M489.7,495.5L489.9,522.5"/>
<path class="o" style="fill:#fff" d="M469.6,528.5 V643.8 l2.8,3.4 l3.4,0.8 l3,1.8 l0.2,-1 V528.5"/>
</g>
<g id="bottle">
<path class="o" style="fill:#fff" d="M457.8,679.2 C449,685 441,694 438.6,704 C437.6,708 437.6,712 437.6,716 V808 C437.6,826 457,831.4 474.5,831.4 C492,831.4 511.9,826 511.9,806 V716 C511.9,700 503,690 492,682.8"/>
<path class="o" style="fill:#fff" d="M457.8,679.2C458.7,678.4 459.6,679.2 460.6,676.8C461.6,674.4 460.3,675.2 460.8,672.0C461.3,668.8 460.4,670.0 462.0,667.2C463.6,664.4 461.6,665.3 465.6,663.6C469.6,661.9 468.4,662.2 474.0,662.2C479.6,662.1 478.2,661.7 482.4,663.4C486.6,665.0 485.0,664.3 486.6,667.2C488.2,670.1 486.8,668.4 487.2,672.0C487.6,675.6 486.6,674.8 487.8,678.0C489.0,681.2 489.3,679.6 490.8,681.6C492.3,683.6 491.8,683.2 492.2,684.0"/>
<ellipse class="m" cx="474.3" cy="669.6" rx="9.6" ry="4.4"/>
<path class="m" d="M461.0,674.2C462.6,675.4 461.4,676.2 465.8,677.8C470.2,679.4 468.6,679.0 474.2,679.0C479.8,679.0 478.2,679.4 482.6,677.8C487.0,676.2 485.8,675.4 487.4,674.2"/>
<path class="t" d="M460.6,676.8C462.2,678.0 460.8,678.8 465.4,680.4C469.9,682.0 468.3,681.6 474.2,681.6C480.2,681.6 478.6,682.0 483.1,680.4C487.7,678.8 486.3,678.0 487.9,676.8"/>
<path class="m" d="M460.1,679.4C461.7,680.6 460.2,681.4 464.9,683.0C469.6,684.6 468.0,684.2 474.2,684.2C480.5,684.2 478.9,684.6 483.6,683.0C488.3,681.4 486.8,680.6 488.4,679.4"/>
<path class="t" d="M459.1,682.1C460.7,683.3 458.9,684.1 463.9,685.7C469.0,687.3 467.4,686.9 474.2,686.9C481.1,686.9 479.5,687.3 484.6,685.7C489.6,684.1 487.8,683.3 489.4,682.1"/>
<path class="m" d="M457.4,684.7C459.0,685.9 456.6,686.7 462.2,688.3C467.8,689.9 466.2,689.5 474.2,689.5C482.2,689.5 480.6,689.9 486.2,688.3C491.8,686.7 489.4,685.9 491.0,684.7"/>
<path class="t" d="M456.7,687.1C458.3,688.3 455.7,689.1 461.5,690.7C467.4,692.3 465.8,691.9 474.2,691.9C482.7,691.9 481.1,692.3 487.0,690.7C492.8,689.1 490.2,688.3 491.8,687.1"/>
<path class="t" d="M457.8,679.4C457.7,681.0 456.8,681.2 457.4,684.0C458.0,686.8 458.9,686.6 459.6,687.8"/>
<path class="t" d="M492.2,684.0C492.1,685.0 492.4,685.2 491.8,687.0C491.1,688.8 490.7,688.6 490.2,689.4"/>
<path class="m" d="M483.9,717.5C484.1,716.9 482.8,716.8 484.5,715.6C486.2,714.4 483.8,715.9 489.0,714.0C494.2,712.1 494.1,712.7 500.2,710.0C506.3,707.3 504.3,707.1 507.4,706.0C510.5,704.9 508.6,705.2 509.5,706.8C510.3,708.4 509.8,709.5 510.0,710.8L510.1,808.4C509.5,809.7 511.5,809.7 508.2,812.4C504.9,815.1 506.6,814.1 500.2,816.4C493.8,818.7 494.0,818.2 489.0,819.3C484.0,820.3 486.9,820.3 485.2,819.6C483.5,818.9 484.3,818.0 483.9,817.2L483.9,717.5"/>
<text transform="translate(506.6,800.6) rotate(-90)" font-family="Liberation Sans, sans-serif" font-weight="bold" font-size="21" textLength="80" lengthAdjust="spacingAndGlyphs" fill="#fff" stroke="#111" stroke-width="1.25">STIHL</text>
</g>
<g id="hose">
<path class="o" style="fill:none" d="M759.0,488.5C759.2,485.7 758.7,486.2 759.5,480.0C760.3,473.8 759.3,476.7 761.5,470.0C763.7,463.3 762.5,467.0 766.0,460.0C769.5,453.0 767.3,456.7 772.0,449.0C776.7,441.3 774.0,445.0 780.0,437.0C786.0,429.0 783.3,432.3 790.0,425.0C796.7,417.7 793.3,421.3 800.0,415.0C806.7,408.7 803.3,411.5 810.0,406.0C816.7,400.5 813.3,403.2 820.0,398.5C826.7,393.8 823.3,396.0 830.0,392.0C836.7,388.0 833.3,389.7 840.0,386.5C846.7,383.3 843.3,384.6 850.0,382.3C856.7,380.0 853.3,380.9 860.0,379.5C866.7,378.1 863.3,378.7 870.0,378.0C876.7,377.3 873.3,377.3 880.0,377.5C886.7,377.7 884.7,377.7 890.0,378.5C895.3,379.3 894.0,379.5 896.0,380.0"/>
<path class="o" style="fill:none" d="M899.0,375.0C901.3,377.7 900.7,377.0 906.0,383.0C911.3,389.0 909.3,386.7 915.0,393.0C920.7,399.3 918.3,396.0 923.0,402.0C927.7,408.0 925.7,405.0 929.0,411.0C932.3,417.0 931.0,413.7 933.0,420.0C935.0,426.3 934.5,423.3 935.0,430.0C935.5,436.7 935.5,433.3 934.5,440.0C933.5,446.7 934.0,443.3 932.0,450.0C930.0,456.7 931.0,453.3 928.5,460.0C926.0,466.7 927.3,463.3 924.5,470.0C921.7,476.7 923.8,473.3 920.0,480.0C916.2,486.7 918.3,483.0 913.0,490.0C907.7,497.0 910.3,494.0 904.0,501.0C897.7,508.0 901.0,504.7 894.0,511.0C887.0,517.3 890.3,514.3 883.0,520.0C875.7,525.7 879.7,523.0 872.0,528.0C864.3,533.0 867.3,531.3 860.0,535.0C852.7,538.7 856.7,536.7 850.0,539.0C843.3,541.3 846.7,540.0 840.0,542.0C833.3,544.0 836.7,543.3 830.0,545.0C823.3,546.7 826.7,546.3 820.0,547.0C813.3,547.7 816.7,547.7 810.0,547.0C803.3,546.3 806.0,547.0 800.0,545.0C794.0,543.0 797.0,544.3 792.0,541.0C787.0,537.7 789.0,539.7 785.0,535.0C781.0,530.3 783.3,533.0 780.0,527.0C776.7,521.0 778.3,523.3 775.0,517.0C771.7,510.7 773.3,513.0 770.0,508.0C766.7,503.0 768.3,505.2 765.0,502.0C761.7,498.8 763.3,500.1 760.0,498.5C756.7,496.9 758.3,497.6 755.0,497.2C751.7,496.8 752.6,497.4 750.0,497.3C747.4,497.2 750.5,496.1 747.2,497.0C743.9,497.9 743.9,497.4 740.0,500.0C736.1,502.6 736.9,503.2 735.4,504.8"/>
<path class="o" style="fill:none" d="M778.0,500.0C778.3,497.3 777.7,498.3 779.0,492.0C780.3,485.7 779.0,488.3 782.0,481.0C785.0,473.7 783.8,477.2 788.0,470.0C792.2,462.8 789.8,466.8 794.5,459.3C799.2,451.8 796.5,454.9 802.0,447.5C807.5,440.1 804.7,443.5 811.0,437.0C817.3,430.5 814.0,433.7 821.0,428.0C828.0,422.3 825.0,424.7 832.0,420.0C839.0,415.3 836.0,417.3 842.0,414.0C848.0,410.7 844.0,413.0 850.0,410.0C856.0,407.0 853.3,407.8 860.0,405.0C866.7,402.2 863.3,403.3 870.0,401.5C876.7,399.7 873.3,400.3 880.0,399.5C886.7,398.7 883.3,398.7 890.0,399.0C896.7,399.3 894.7,399.2 900.0,400.5C905.3,401.8 903.3,400.8 906.0,403.0C908.7,405.2 907.4,404.0 908.2,407.0C909.0,410.0 908.7,407.0 908.5,412.0C908.3,417.0 908.8,415.3 907.5,422.0C906.2,428.7 907.0,425.3 904.5,432.0C902.0,438.7 903.3,435.5 900.0,442.0C896.7,448.5 897.7,445.3 894.5,451.5C891.3,457.7 893.5,454.7 890.5,460.5C887.5,466.3 889.0,463.5 885.5,469.0C882.0,474.5 884.5,471.7 880.0,477.0C875.5,482.3 877.7,479.8 872.0,485.0C866.3,490.2 870.3,487.0 863.0,492.5C855.7,498.0 857.7,496.8 850.0,501.5C842.3,506.2 846.7,503.2 840.0,506.5C833.3,509.8 836.7,508.5 830.0,511.5C823.3,514.5 826.7,513.3 820.0,515.5C813.3,517.7 816.7,516.8 810.0,518.0C803.3,519.2 806.0,519.0 800.0,519.0C794.0,519.0 796.3,519.0 792.0,518.0C787.7,517.0 789.7,518.0 787.0,516.0C784.3,514.0 786.0,515.0 784.0,512.0C782.0,509.0 783.3,510.7 781.0,507.0C778.7,503.3 780.0,504.5 777.0,501.0C774.0,497.5 775.7,499.3 772.0,496.5C768.3,493.7 770.0,494.7 766.0,492.5C762.0,490.3 763.7,491.2 760.0,490.0C756.3,488.8 757.7,489.5 755.0,488.8C752.3,488.1 755.8,487.7 752.0,488.0C748.2,488.3 748.8,487.8 743.6,489.8C738.4,491.8 740.0,491.2 736.4,494.0C732.8,496.8 734.0,496.8 732.8,498.2"/>
<path class="m" d="M765.5,490.0C765.8,486.7 765.3,486.7 766.5,480.0C767.7,473.3 766.7,476.7 769.0,470.0C771.3,463.3 771.5,464.0 773.5,460.0C775.5,456.0 771.8,463.0 775.0,458.0C778.2,453.0 777.0,453.7 783.0,445.0C789.0,436.3 786.0,440.3 793.0,432.0C800.0,423.7 796.7,427.3 804.0,420.0C811.3,412.7 807.7,416.0 815.0,410.0C822.3,404.0 818.3,407.0 826.0,402.0C833.7,397.0 830.0,398.8 838.0,395.0C846.0,391.2 842.7,393.2 850.0,390.5C857.3,387.8 853.3,389.2 860.0,387.0C866.7,384.8 863.3,385.5 870.0,384.0C876.7,382.5 873.3,383.0 880.0,382.5C886.7,382.0 883.3,381.7 890.0,382.5C896.7,383.3 894.0,383.0 900.0,385.0C906.0,387.0 903.7,386.3 908.0,388.5C912.3,390.7 911.3,390.5 913.0,391.5"/>
<path class="m" d="M772.5,493.0C772.3,492.3 771.7,495.3 772.0,491.0C772.3,486.7 771.8,487.0 773.5,480.0C775.2,473.0 773.8,476.7 777.0,470.0C780.2,463.3 778.0,468.0 783.0,460.0C788.0,452.0 785.7,454.7 792.0,446.0C798.3,437.3 795.3,441.3 802.0,434.0C808.7,426.7 805.0,430.3 812.0,424.0C819.0,417.7 815.7,420.5 823.0,415.0C830.3,409.5 825.0,412.7 834.0,407.5C843.0,402.3 841.3,403.5 850.0,399.3C858.7,395.1 853.3,397.6 860.0,395.0C866.7,392.4 863.3,393.2 870.0,391.5C876.7,389.8 873.3,390.5 880.0,390.0C886.7,389.5 883.3,389.5 890.0,390.0C896.7,390.5 893.3,389.8 900.0,391.5C906.7,393.2 904.7,392.7 910.0,395.0C915.3,397.3 914.0,397.3 916.0,398.5"/>
<path class="m" d="M907.0,403.0C908.7,404.5 909.7,403.5 912.0,407.5C914.3,411.5 913.3,409.2 914.0,415.0C914.7,420.8 914.8,418.3 914.0,425.0C913.2,431.7 913.8,428.0 911.5,435.0C909.2,442.0 910.3,438.3 907.0,446.0C903.7,453.7 905.2,450.5 901.5,458.0C897.8,465.5 899.5,462.2 896.0,468.5C892.5,474.8 895.3,471.2 891.0,477.0C886.7,482.8 888.7,480.3 883.0,486.0C877.3,491.7 880.7,488.7 874.0,494.0C867.3,499.3 871.0,496.8 863.0,502.0C855.0,507.2 859.3,504.4 850.0,509.7C840.7,515.0 845.0,513.6 835.0,518.0C825.0,522.4 830.0,520.7 820.0,523.0C810.0,525.3 813.3,524.7 805.0,525.0C796.7,525.3 801.0,526.0 795.0,524.0C789.0,522.0 789.7,520.7 787.0,519.0"/>
<path class="m" d="M912.0,406.0C913.3,407.3 913.7,406.0 916.0,410.0C918.3,414.0 917.8,412.0 919.0,418.0C920.2,424.0 920.0,421.3 919.5,428.0C919.0,434.7 919.7,430.7 917.5,438.0C915.3,445.3 915.8,442.7 913.0,450.0C910.2,457.3 911.8,453.5 909.0,460.0C906.2,466.5 907.5,463.2 904.5,469.5C901.5,475.8 903.8,472.5 900.0,479.0C896.2,485.5 898.3,482.7 893.0,489.0C887.7,495.3 890.3,492.3 884.0,498.0C877.7,503.7 881.0,500.7 874.0,506.0C867.0,511.3 871.0,509.2 863.0,514.0C855.0,518.8 857.7,517.0 850.0,520.3C842.3,523.6 848.3,520.9 840.0,524.0C831.7,527.1 835.0,527.0 825.0,529.5C815.0,532.0 818.3,531.2 810.0,531.5C801.7,531.8 806.7,532.3 800.0,530.5C793.3,528.7 793.3,527.5 790.0,526.0"/>
<path class="m" d="M916.0,409.0C917.3,410.3 917.3,409.0 920.0,413.0C922.7,417.0 922.3,415.3 924.0,421.0C925.7,426.7 925.0,423.7 925.0,430.0C925.0,436.3 925.5,433.0 924.0,440.0C922.5,447.0 922.7,444.2 920.5,451.0C918.3,457.8 919.8,454.2 917.5,460.5C915.2,466.8 916.3,463.2 913.5,470.0C910.7,476.8 912.8,474.0 909.0,481.0C905.2,488.0 907.3,484.3 902.0,491.0C896.7,497.7 899.3,494.7 893.0,501.0C886.7,507.3 890.0,504.3 883.0,510.0C876.0,515.7 879.7,513.0 872.0,518.0C864.3,523.0 867.3,521.3 860.0,525.0C852.7,528.7 860.0,525.7 850.0,529.0C840.0,532.3 841.7,532.2 830.0,535.0C818.3,537.8 823.7,537.0 815.0,537.5C806.3,538.0 811.0,538.3 804.0,536.5C797.0,534.7 797.3,533.5 794.0,532.0"/>
<path class="o" style="fill:none;stroke-width:1.6" d="M760.5,500.0C761.2,502.7 760.0,502.7 762.5,508.0C765.0,513.3 763.8,511.3 768.0,516.0C772.2,520.7 771.3,518.7 775.0,522.0C778.7,525.3 777.7,524.7 779.0,526.0"/>
<path class="t" d="M764.5,505.0 l3.5,6.5"/>
<path class="t" d="M766.7,507.4 l3.5,6.5"/>
<path class="t" d="M768.9,509.8 l3.5,6.5"/>
<path class="t" d="M771.1,512.2 l3.5,6.5"/>
<path class="t" d="M773.3,514.6 l3.5,6.5"/>
<path class="t" d="M897.0,379.5C899.7,381.7 899.3,380.8 905.0,386.0C910.7,391.2 911.0,392.0 914.0,395.0"/>
<path class="o" style="fill:#fff" d="M847.5,319.5C849.3,320.7 849.5,321.0 853.0,323.0C856.5,325.0 854.7,323.8 858.0,325.5C861.3,327.2 859.7,325.2 863.0,328.0C866.3,330.8 864.7,330.0 868.0,334.0C871.3,338.0 870.3,336.7 873.0,340.0C875.7,343.3 874.7,341.7 876.0,344.0C877.3,346.3 875.3,344.7 877.0,347.0C878.7,349.3 877.0,347.0 881.0,351.0C885.0,355.0 883.7,353.7 889.0,359.0C894.3,364.3 893.5,363.3 897.0,367.0C900.5,370.7 898.7,369.0 899.5,370.0L899.5,374.0L897.0,379.5C892.3,379.1 888.3,379.0 883.0,378.2C877.7,377.4 883.7,379.7 881.0,377.0C878.3,374.3 879.0,374.7 875.0,370.0C871.0,365.3 872.5,367.3 869.0,363.0C865.5,358.7 867.5,360.3 864.5,357.0C861.5,353.7 863.5,356.3 860.0,353.0C856.5,349.7 857.7,351.0 854.0,347.0C850.3,343.0 851.5,344.2 849.0,341.0C846.5,337.8 847.8,339.8 846.5,337.5C845.2,335.2 846.0,336.5 845.0,334.0C844.0,331.5 844.8,332.0 843.5,330.0C842.2,328.0 842.5,330.0 841.0,328.0C839.5,326.0 839.7,325.3 839.0,324.0"/>
<circle cx="843" cy="320.6" r="4.4" fill="#333" stroke="#111" stroke-width="1.4"/>
<circle cx="842.6" cy="319.8" r="1.6" fill="#777"/>
<path class="m" d="M853.0,323.2C852.6,324.6 853.7,325.2 851.8,327.5C849.9,329.8 849.9,329.2 847.2,330.0C844.5,330.8 844.9,330.0 843.8,330.0"/>
<path class="m" d="M858.0,325.8C857.7,327.5 859.0,327.9 857.0,331.0C855.0,334.1 855.5,333.1 852.0,335.2C848.5,337.3 848.3,336.7 846.5,337.4"/>
<path class="m" style="stroke:#444;stroke-width:1.8" d="M863.0,328.5C862.7,330.3 864.0,330.4 862.0,334.0C860.0,337.6 861.0,336.7 857.0,339.2C853.0,341.7 852.3,340.8 850.0,341.6"/>
<path class="t" d="M860.5,327.0C860.2,328.8 861.5,329.1 859.5,332.5C857.5,335.9 858.4,334.8 854.6,337.2C850.8,339.6 850.3,338.8 848.2,339.6"/>
<path class="m" style="stroke:#777;stroke-width:1.8" d="M877.0,347.0C876.3,348.7 877.3,349.0 875.0,352.0C872.7,355.0 873.4,354.2 870.0,356.0C866.6,357.8 866.5,357.0 864.8,357.5"/>
<path class="t" d="M875.5,345.5C874.9,347.2 875.9,347.5 873.6,350.5C871.3,353.5 872.0,352.7 868.6,354.5C865.2,356.3 865.2,355.5 863.5,356.0"/>
<path class="o" style="fill:none" d="M899.5,374.0C901.3,376.3 900.8,376.0 905.0,381.0C909.2,386.0 908.7,385.2 912.0,389.0C915.3,392.8 914.0,391.3 915.0,392.5"/>
<path class="o" style="fill:#fff" d="M658.4,544.4C659.2,543.2 658.8,542.6 660.8,540.8C662.8,539.0 662.0,540.8 664.4,539.0C666.8,537.2 666.0,537.6 668.0,535.4C670.0,533.2 668.4,534.6 670.4,532.4C672.4,530.2 670.4,532.0 674.0,528.8C677.6,525.6 675.6,527.0 681.2,522.8C686.8,518.6 686.0,518.8 690.8,516.2C695.6,513.6 690.0,518.2 695.6,515.0C701.2,511.8 699.2,512.6 707.6,506.6C716.0,500.6 715.2,500.8 720.8,497.0C726.4,493.2 721.6,495.8 724.4,495.2C727.2,494.6 726.4,494.2 729.2,495.2C732.0,496.2 730.8,496.2 732.8,498.2C734.8,500.2 734.3,499.0 735.2,501.2C736.1,503.4 735.8,502.8 735.4,504.8C735.0,506.8 736.1,505.6 734.0,507.2C731.9,508.8 734.8,506.0 729.2,509.6C723.6,513.2 726.0,511.6 717.2,518.0C708.4,524.4 712.0,521.4 702.8,528.8C693.6,536.2 696.0,535.4 689.6,540.2C683.2,545.0 688.8,541.0 683.6,543.2C678.4,545.4 679.2,544.4 674.0,546.8C668.8,549.2 672.0,548.7 668.0,550.4C664.0,552.1 664.0,551.4 662.0,551.8"/>
<circle cx="661.4" cy="547" r="3.5" fill="#333" stroke="#111" stroke-width="1.4"/>
<circle cx="661.2" cy="547.6" r="1.4" fill="#888"/>
<path class="m" d="M664.4,539.0C665.6,540.0 666.4,539.4 668.0,542.0C669.6,544.6 669.2,544.0 669.2,546.8C669.2,549.6 668.4,549.2 668.0,550.4"/>
<path class="m" d="M669.2,534.2C670.6,535.4 671.4,534.8 673.4,537.8C675.4,540.8 675.0,540.2 675.2,543.2C675.4,546.2 674.4,545.6 674.0,546.8"/>
<path class="m" style="stroke:#444;stroke-width:1.8" d="M674.0,528.8C675.6,530.0 676.3,529.2 678.8,532.4C681.3,535.6 680.8,534.6 681.4,538.4C682.1,542.2 681.0,542.0 680.7,543.8"/>
<path class="m" d="M678.8,525.2C680.6,527.0 681.7,526.6 684.2,530.6C686.7,534.6 685.8,533.4 686.2,537.2C686.7,541.0 685.8,540.4 685.5,542.0"/>
<path class="t" d="M676.6,526.9C678.3,528.4 679.3,527.8 681.7,531.4C684.1,535.1 683.4,534.0 683.8,537.8C684.3,541.6 683.4,541.2 683.1,543.0"/>
<path class="m" style="stroke:#777;stroke-width:1.8" d="M695.6,515.4C697.2,516.6 697.9,516.3 700.4,519.2C702.9,522.1 702.2,520.7 703.0,524.0C703.9,527.3 703.0,527.4 703.0,529.0"/>
<path class="t" d="M693.4,516.1C695.0,517.4 695.8,517.1 698.2,520.2C700.7,523.2 700.0,521.8 700.9,525.2C701.8,528.6 700.9,528.6 700.9,530.2"/>
</g>
<g id="misc">
<g transform="rotate(-24 534.3 279.2)"><ellipse cx="534.3" cy="279.2" rx="5.3" ry="7.4" fill="#fff" stroke="#111" stroke-width="2.3"/><ellipse cx="534.3" cy="279.2" rx="2.3" ry="4.2" fill="#fff" stroke="#111" stroke-width="1.8"/></g>
<g transform="rotate(-24 564.9 440.6)"><ellipse cx="564.9" cy="440.6" rx="5.3" ry="7.4" fill="#fff" stroke="#111" stroke-width="2.3"/><ellipse cx="564.9" cy="440.6" rx="2.3" ry="4.2" fill="#fff" stroke="#111" stroke-width="1.8"/></g>
</g>
</g>
<!-- LABELS -->
<g class="lbl">
<text x="598" y="186">1</text>
<text x="263.5" y="316">2</text>
<text x="498" y="262">3</text>
<text x="561.8" y="520.4">3</text>
<text x="42.5" y="619">4,</text>
<text x="145" y="669">6,</text>
<text x="419" y="427.5">9</text>
<text x="549" y="770.8">10</text>
<text x="935" y="330">11</text>
</g>
</svg>
</body>
</html>
